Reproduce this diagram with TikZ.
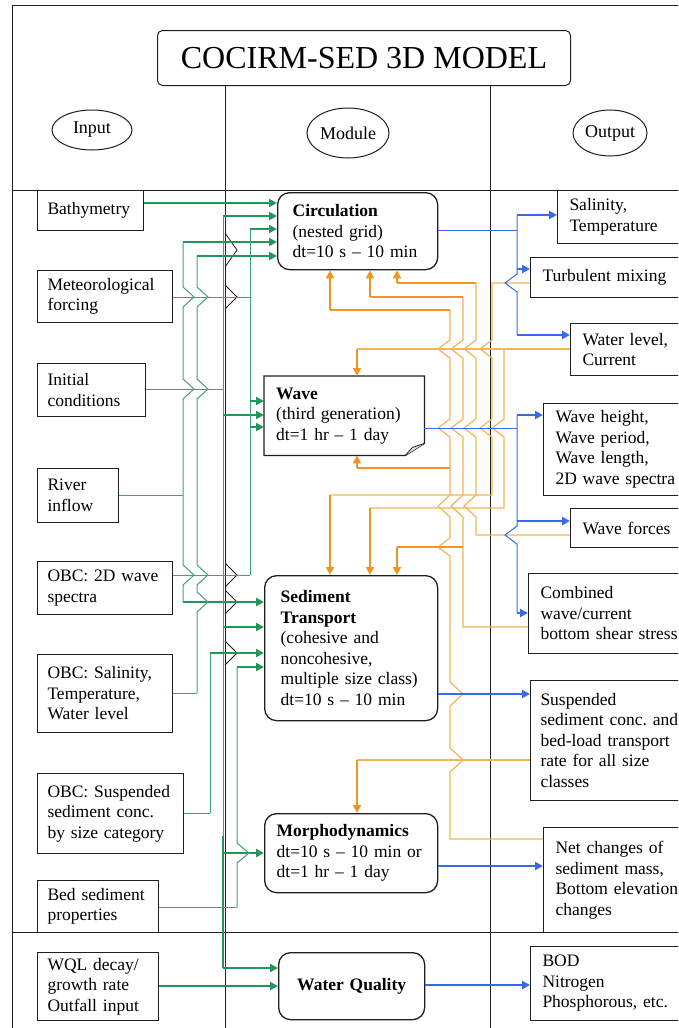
\documentclass[tikz,border=0pt]{standalone}
\usepackage{fontspec}
\setmainfont{Liberation Serif}
\usetikzlibrary{arrows.meta,shapes.geometric}
\definecolor{gthk}{RGB}{34,150,90}
\definecolor{gthn}{RGB}{64,162,120}
\definecolor{othk}{RGB}{238,150,36}
\definecolor{othn}{RGB}{242,182,82}
\definecolor{bl}{RGB}{55,105,235}
\definecolor{frm}{RGB}{30,30,30}
\begin{document}
\begin{tikzpicture}[x=1pt,y=-1pt,
  font=\fontsize{17.5}{20.5}\selectfont,
  bx/.style n args={3}{minimum width=#1pt, minimum height=#2pt, text width=#3pt},
  ibox/.style={draw=frm, line width=1pt, inner xsep=10pt, inner ysep=0pt, align=left, anchor=north west},
  obox/.style={draw=frm, line width=1pt, inner xsep=12pt, inner ysep=0pt, align=left, anchor=north west},
  mbox/.style={draw=frm, line width=1.3pt, rounded corners=12pt, inner ysep=0pt, align=left, anchor=north west},
  lab/.style={ellipse, draw=frm, line width=1pt, inner sep=0pt, font=\fontsize{18}{20}\selectfont},
  gn/.style={draw=gthn, line width=1pt},
  gk/.style={draw=gthk, line width=2.2pt, -{Triangle[length=8pt,width=8pt]}},
  on/.style={draw=othn, line width=1.2pt},
  om/.style={draw=othk, line width=1.6pt},
  ok/.style={draw=othk, line width=2.2pt, -{Triangle[length=8pt,width=8pt]}},
  bn/.style={draw=bl, line width=1pt},
  bk/.style={draw=bl, line width=2pt, -{Triangle[length=8pt,width=8pt]}},
  jmp/.style={draw=frm, line width=0.8pt}]
\clip (0,0) rectangle (678,1028);
\fill[white] (0,0) rectangle (678,1028);
% frame
\draw[frm, line width=1pt] (12,1040) -- (12,5) -- (690,5);
\draw[frm, line width=1pt] (12,190) -- (690,190);
\draw[frm, line width=1pt] (12,932) -- (690,932);
% title
\node[draw=frm, line width=1pt, rounded corners=5pt, minimum width=413pt, minimum height=55pt, anchor=north west, font=\fontsize{32}{36}\selectfont] (title) at (157,30) {COCIRM-SED 3D MODEL};
\draw[frm, line width=1pt] (title.south -| 225,0) -- (225,1040);
\draw[frm, line width=1pt] (title.south -| 490,0) -- (490,1040);
% column labels
\node[lab, minimum width=80pt, minimum height=40pt] (lin) at (92,130) {Input};
\node[lab, minimum width=82pt, minimum height=50pt] (lmod) at (348,133) {Module};
\node[lab, minimum width=74pt, minimum height=46pt] (lout) at (610,133) {Output};
% input boxes
\node[ibox, bx={106}{40}{86}] (bath) at (37,190) {Bathymetry};
\node[ibox, bx={135}{52}{115}] (met) at (37,270) {Meteorological\\forcing};
\node[ibox, bx={108}{53}{88}] (init) at (37,363) {Initial\\conditions};
\node[ibox, bx={81}{54}{61}] (river) at (37,468) {River\\inflow};
\node[ibox, bx={135}{53}{115}] (obcw) at (37,561) {OBC: 2D wave\\spectra};
\node[ibox, bx={135}{78}{115}] (obcs) at (37,654) {OBC: Salinity,\\Temperature,\\Water level};
\node[ibox, bx={146}{80}{126}] (obcss) at (37,773) {OBC: Suspended\\sediment conc.\\by size category};
\node[ibox, bx={121}{52}{101}] (bed) at (37,880) {Bed sediment\\properties};
\node[ibox, bx={121}{68}{101}] (wql) at (37,952) {WQL decay/\\growth rate\\Outfall input};
% module boxes
\node[mbox, inner xsep=15pt, bx={160}{77}{130}] (circ) at (277,192) {\textbf{Circulation}\\(nested grid)\\dt=10 s -- 10 min};
\node[inner xsep=12pt, inner ysep=0pt, align=left, anchor=north west, bx={160}{79}{136}] (wave) at (264,376) {\textbf{Wave}\\(third generation)\\dt=1 hr -- 1 day};
\draw[frm, line width=1.3pt] (wave.north west) -- (wave.north east) -- ([yshift=12pt]wave.south east) -- ([xshift=-19pt]wave.south east) -- (wave.south west) -- cycle;
\draw[frm, line width=0.8pt, fill=gray!25] ([yshift=12pt]wave.south east) -- ([xshift=-12pt,yshift=8pt]wave.south east) -- ([xshift=-19pt]wave.south east);
\node[mbox, inner xsep=16pt, bx={173}{145}{141}] (sed) at (264,575) {\textbf{Sediment}\\\textbf{Transport}\\(cohesive and\\noncohesive,\\multiple size class)\\dt=10 s -- 10 min};
\node[mbox, inner xsep=12pt, bx={173}{79}{149}] (morph) at (264,813) {\textbf{Morphodynamics}\\dt=10 s -- 10 min or\\dt=1 hr -- 1 day};
\node[mbox, inner xsep=10pt, align=center, bx={146}{67}{126}] (wq) at (278,952) {\textbf{Water Quality}};
% output boxes
\node[obox, bx={143}{53}{119}] (salt) at (557,190) {Salinity,\\Temperature};
\node[obox, bx={170}{40}{146}] (turb) at (530,257) {Turbulent mixing};
\node[obox, bx={130}{52}{106}] (wl) at (570,323) {Water level,\\Current};
\node[obox, bx={157}{92}{133}] (wh) at (543,403) {Wave height,\\Wave period,\\Wave length,\\2D wave spectra};
\node[obox, bx={130}{39}{106}] (wf) at (570,508) {Wave forces};
\node[obox, bx={172}{80}{148}] (comb) at (528,573) {Combined\\wave/current\\bottom shear stress};
\node[obox, inner xsep=10pt, bx={170}{120}{150}] (susp) at (530,680) {Suspended\\sediment conc.~and\\bed-load transport\\rate for all size\\classes};
\node[obox, bx={157}{105}{133}] (net) at (543,827) {Net changes of\\sediment mass,\\Bottom elevation\\changes};
\node[obox, bx={170}{74}{146}] (bod) at (530,946) {BOD\\Nitrogen\\Phosphorous, etc.};
% jumps on black divider
\draw[jmp] (225,233) -- (237,250) -- (225,267);
\draw[jmp] (225,285) -- (237,297) -- (225,309);
\draw[jmp] (225,563) -- (237,575) -- (225,587);
\draw[jmp] (225,590) -- (237,602) -- (225,614);
\draw[jmp] (225,641) -- (237,653) -- (225,665);
% ---------------- green inputs
\draw[gk] (bath.east |- 0,203) -- (circ.west |- 0,203);
% trunk A
\draw[gn] (183,242) -- (183,287) -- (194,297) -- (183,307) -- (183,379) -- (194,389) -- (183,399) -- (183,565) -- (194,575) -- (183,585) -- (183,602);
\draw[gn] (river.east |- 0,495) -- (183,495);
\draw[gk] (183,242) -- (circ.west |- 0,242);
\draw[gk] (183,602) -- (sed.west |- 0,602);
% trunk B
\draw[gn] (197,256) -- (197,287) -- (208,297) -- (197,307) -- (197,379) -- (208,389) -- (197,399) -- (197,565) -- (208,575) -- (197,585) -- (197,592) -- (208,602) -- (197,612) -- (197,693);
\draw[gn] (obcs.east |- 0,693) -- (197,693);
\draw[gk] (197,256) -- (circ.west |- 0,256);
% trunk C
\draw[gn] (223,216) -- (223,838);
\draw[gthk, line width=2.2pt] (223,836) -- (223,968);
\draw[gn] (init.east |- 0,389) -- (223,389);
\draw[gk] (223,216) -- (circ.west |- 0,216);
\draw[gk] (223,415) -- (wave.west |- 0,415);
\draw[gk] (223,627) -- (sed.west |- 0,627);
\draw[gk] (223,853) -- (morph.west |- 0,853);
\draw[gk] (223,968) -- (wq.west |- 0,968);
% trunk D
\draw[gn] (250,229) -- (250,575);
\draw[gn] (met.east |- 0,297) -- (250,297);
\draw[gn] (obcw.east |- 0,575) -- (250,575);
\draw[gk] (250,229) -- (circ.west |- 0,229);
\draw[gk] (250,401) -- (wave.west |- 0,401);
\draw[gk] (250,427) -- (wave.west |- 0,427);
% trunk E
\draw[gn] (210,653) -- (210,813);
\draw[gn] (obcss.east |- 0,813) -- (210,813);
\draw[gk] (210,653) -- (sed.west |- 0,653);
% trunk F
\draw[gn] (237,667) -- (237,843) -- (249,853) -- (237,863) -- (237,907);
\draw[gn] (bed.east |- 0,907) -- (237,907);
\draw[gk] (237,667) -- (sed.west |- 0,667);
% WQL
\draw[gk] (wql.east |- 0,986) -- (wq.west |- 0,986);
% ---------------- orange feedback
% V1
\draw[on] (450,310) -- (450,340) -- (438,349) -- (450,358) -- (450,419) -- (438,428) -- (450,437) -- (450,495) -- (438,506) -- (450,517) -- (450,538) -- (438,547) -- (450,556) -- (450,682) -- (463,694) -- (450,706) -- (450,748) -- (463,760) -- (450,772) -- (450,839) -- (net.west |- 0,839);
\draw[om] (450,310) -- (330,310);
\draw[ok] (330,310) -- (circ.south -| 330,0);
\draw[om] (450,468) -- (357,468);
\draw[ok] (357,468) -- (wave.south -| 357,0);
% V2
\draw[on] (463,297) -- (463,340) -- (451,349) -- (463,358) -- (463,419) -- (451,428) -- (463,437) -- (463,495) -- (451,506) -- (463,517) -- (463,627) -- (comb.west |- 0,627);
\draw[om] (463,297) -- (370,297);
\draw[ok] (370,297) -- (circ.south -| 370,0);
\draw[om] (463,547) -- (397,547);
\draw[ok] (397,547) -- (sed.north -| 397,0);
% V3
\draw[on] (476,283) -- (476,340) -- (464,349) -- (476,358) -- (476,419) -- (464,428) -- (476,437) -- (476,495) -- (464,506) -- (476,517) -- (476,535) -- (wf.west |- 0,535);
\draw[om] (476,283) -- (397,283);
\draw[ok] (397,283) -- (circ.south -| 397,0);
% V4
\draw[on] (turb.west |- 0,283) -- (492,283) -- (492,340) -- (480,349) -- (492,358) -- (492,419) -- (480,428) -- (492,437) -- (492,495) -- (330,495);
\draw[ok] (330,495) -- (sed.north -| 330,0);
% V5
\draw[on] (wl.west |- 0,349) -- (357,349);
\draw[ok] (357,349) -- (wave.north -| 357,0);
\draw[on] (504,349) -- (504,419) -- (492,428) -- (504,437) -- (504,508) -- (370,508);
\draw[ok] (370,508) -- (sed.north -| 370,0);
% suspended -> morph
\draw[on] (susp.west |- 0,760) -- (357,760);
\draw[ok] (357,760) -- (morph.north -| 357,0);
% ---------------- blue outputs
\draw[bn] (circ.east |- 0,230) -- (517,230);
\draw[bn] (517,215) -- (517,274) -- (505,283) -- (517,292) -- (517,335);
\draw[bk] (517,215) -- (salt.west |- 0,215);
\draw[bk] (517,269) -- (turb.west |- 0,269);
\draw[bk] (517,335) -- (wl.west |- 0,335);
\draw[bn] (wave.east |- 0,428) -- (517,428);
\draw[bn] (517,415) -- (517,526) -- (505,535) -- (517,544) -- (517,613);
\draw[bk] (517,415) -- (wh.west |- 0,415);
\draw[bk] (517,521) -- (wf.west |- 0,521);
\draw[bk] (517,613) -- (comb.west |- 0,613);
\draw[bk, line width=1.6pt] (sed.east |- 0,694) -- (susp.west |- 0,694);
\draw[bk] (morph.east |- 0,866) -- (net.west |- 0,866);
\draw[bk] (wq.east |- 0,985) -- (bod.west |- 0,985);
\end{tikzpicture}
\end{document}
